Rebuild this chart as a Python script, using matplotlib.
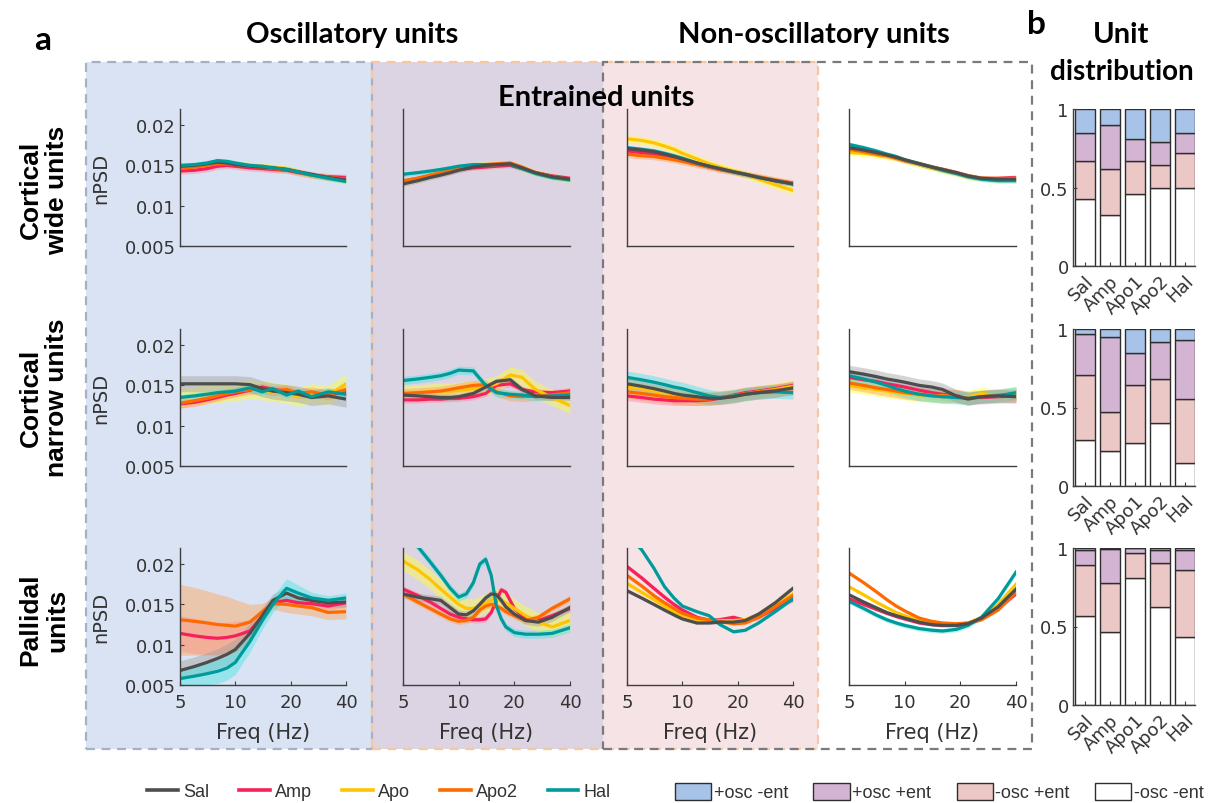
import numpy as np
import matplotlib
matplotlib.use("Agg")
import matplotlib.pyplot as plt
from matplotlib.lines import Line2D
from matplotlib.patches import Patch, Rectangle
from matplotlib.ticker import NullLocator

# ------ Data ------
GROUPS = ["Sal", "Amp", "Apo", "Apo2", "Hal"]
BAR_GROUPS = ["Sal", "Amp", "Apo1", "Apo2", "Hal"]
FREQ = [5, 6, 7, 8, 9, 10, 12, 14, 16, 19, 22, 26, 32, 40]
FREQ_PAL_ENT = [5, 6, 7, 8, 9, 10, 11, 12, 13, 14, 15, 16, 17, 18, 20, 23, 27, 32, 40]

# cortical wide units
wide_osc = {
    "Sal": [0.0149, 0.0150, 0.0152, 0.0154, 0.0153, 0.0151, 0.0149, 0.0148, 0.0147, 0.0145, 0.0142, 0.0139, 0.0135, 0.0132],
    "Amp": [0.0143, 0.0144, 0.0146, 0.0149, 0.0150, 0.0149, 0.0147, 0.0146, 0.0145, 0.0144, 0.0141, 0.0138, 0.0136, 0.0135],
    "Apo": [0.0148, 0.0150, 0.0152, 0.0154, 0.0153, 0.0152, 0.0150, 0.0149, 0.0148, 0.0146, 0.0142, 0.0138, 0.0135, 0.0131],
    "Apo2": [0.0146, 0.0148, 0.0150, 0.0152, 0.0152, 0.0151, 0.0149, 0.0148, 0.0146, 0.0145, 0.0142, 0.0138, 0.0135, 0.0133],
    "Hal": [0.0150, 0.0151, 0.0153, 0.0156, 0.0155, 0.0153, 0.0150, 0.0149, 0.0147, 0.0145, 0.0142, 0.0138, 0.0134, 0.0130],
}
wide_osc_ent = {
    "Sal": [0.0127, 0.0131, 0.0135, 0.0138, 0.0141, 0.0144, 0.0148, 0.0150, 0.0151, 0.0152, 0.0147, 0.0141, 0.0136, 0.0133],
    "Amp": [0.0130, 0.0134, 0.0137, 0.0140, 0.0142, 0.0145, 0.0147, 0.0148, 0.0149, 0.0150, 0.0146, 0.0141, 0.0137, 0.0134],
    "Apo": [0.0129, 0.0133, 0.0137, 0.0141, 0.0144, 0.0147, 0.0150, 0.0151, 0.0151, 0.0152, 0.0147, 0.0141, 0.0136, 0.0132],
    "Apo2": [0.0131, 0.0134, 0.0138, 0.0141, 0.0144, 0.0147, 0.0150, 0.0151, 0.0152, 0.0153, 0.0148, 0.0141, 0.0136, 0.0133],
    "Hal": [0.0139, 0.0141, 0.0143, 0.0145, 0.0147, 0.0149, 0.0151, 0.0151, 0.0151, 0.0151, 0.0146, 0.0140, 0.0135, 0.0132],
}
wide_ent = {
    "Sal": [0.0171, 0.0169, 0.0167, 0.0164, 0.0161, 0.0158, 0.0153, 0.0149, 0.0146, 0.0142, 0.0139, 0.0135, 0.0131, 0.0127],
    "Amp": [0.0168, 0.0166, 0.0164, 0.0162, 0.0160, 0.0157, 0.0152, 0.0148, 0.0145, 0.0142, 0.0139, 0.0135, 0.0131, 0.0128],
    "Apo": [0.0183, 0.0181, 0.0178, 0.0174, 0.0170, 0.0165, 0.0158, 0.0152, 0.0148, 0.0143, 0.0139, 0.0133, 0.0126, 0.0119],
    "Apo2": [0.0164, 0.0162, 0.0161, 0.0159, 0.0157, 0.0155, 0.0151, 0.0148, 0.0145, 0.0142, 0.0139, 0.0136, 0.0132, 0.0128],
    "Hal": [0.0172, 0.0170, 0.0168, 0.0165, 0.0162, 0.0159, 0.0153, 0.0149, 0.0146, 0.0142, 0.0139, 0.0135, 0.0131, 0.0127],
}
wide_none = {
    "Sal": [0.0172, 0.0169, 0.0166, 0.0163, 0.0160, 0.0157, 0.0152, 0.0148, 0.0145, 0.0141, 0.0137, 0.0134, 0.0133, 0.0133],
    "Amp": [0.0171, 0.0168, 0.0165, 0.0162, 0.0159, 0.0156, 0.0152, 0.0148, 0.0145, 0.0141, 0.0137, 0.0134, 0.0134, 0.0135],
    "Apo": [0.0166, 0.0165, 0.0163, 0.0161, 0.0159, 0.0156, 0.0151, 0.0147, 0.0144, 0.0140, 0.0136, 0.0134, 0.0133, 0.0134],
    "Apo2": [0.0170, 0.0167, 0.0164, 0.0162, 0.0159, 0.0156, 0.0152, 0.0148, 0.0145, 0.0141, 0.0137, 0.0134, 0.0133, 0.0133],
    "Hal": [0.0176, 0.0172, 0.0168, 0.0164, 0.0161, 0.0157, 0.0152, 0.0148, 0.0144, 0.0140, 0.0136, 0.0133, 0.0131, 0.0131],
}

# cortical narrow units
narrow_osc = {
    "Sal": [0.0152, 0.0152, 0.0152, 0.0152, 0.0152, 0.0152, 0.0151, 0.0146, 0.0143, 0.0141, 0.0139, 0.0135, 0.0137, 0.0133],
    "Amp": [0.0127, 0.0129, 0.0132, 0.0135, 0.0138, 0.0140, 0.0144, 0.0148, 0.0145, 0.0143, 0.0141, 0.0140, 0.0139, 0.0141],
    "Apo": [0.0135, 0.0137, 0.0139, 0.0140, 0.0142, 0.0143, 0.0145, 0.0144, 0.0142, 0.0140, 0.0136, 0.0140, 0.0138, 0.0152],
    "Apo2": [0.0128, 0.0131, 0.0134, 0.0137, 0.0140, 0.0142, 0.0145, 0.0146, 0.0143, 0.0145, 0.0140, 0.0142, 0.0138, 0.0145],
    "Hal": [0.0135, 0.0137, 0.0139, 0.0141, 0.0142, 0.0143, 0.0147, 0.0142, 0.0146, 0.0138, 0.0143, 0.0136, 0.0142, 0.0139],
}
narrow_osc_ent = {
    "Sal": [0.0138, 0.0137, 0.0136, 0.0135, 0.0135, 0.0136, 0.0140, 0.0148, 0.0155, 0.0157, 0.0145, 0.0137, 0.0135, 0.0135],
    "Amp": [0.0132, 0.0132, 0.0133, 0.0133, 0.0134, 0.0134, 0.0136, 0.0140, 0.0150, 0.0152, 0.0145, 0.0142, 0.0141, 0.0143],
    "Apo": [0.0140, 0.0141, 0.0142, 0.0143, 0.0143, 0.0144, 0.0146, 0.0148, 0.0152, 0.0163, 0.0160, 0.0145, 0.0135, 0.0125],
    "Apo2": [0.0140, 0.0141, 0.0142, 0.0143, 0.0145, 0.0147, 0.0150, 0.0151, 0.0142, 0.0137, 0.0136, 0.0137, 0.0138, 0.0141],
    "Hal": [0.0156, 0.0158, 0.0160, 0.0162, 0.0165, 0.0169, 0.0168, 0.0150, 0.0141, 0.0139, 0.0138, 0.0136, 0.0137, 0.0138],
}
narrow_ent = {
    "Sal": [0.0152, 0.0149, 0.0146, 0.0143, 0.0140, 0.0138, 0.0136, 0.0134, 0.0134, 0.0136, 0.0139, 0.0141, 0.0143, 0.0147],
    "Amp": [0.0137, 0.0135, 0.0133, 0.0132, 0.0131, 0.0131, 0.0131, 0.0132, 0.0134, 0.0138, 0.0141, 0.0143, 0.0146, 0.0150],
    "Apo": [0.0148, 0.0146, 0.0143, 0.0141, 0.0139, 0.0137, 0.0135, 0.0134, 0.0135, 0.0137, 0.0139, 0.0142, 0.0145, 0.0149],
    "Apo2": [0.0142, 0.0140, 0.0138, 0.0136, 0.0135, 0.0134, 0.0133, 0.0133, 0.0135, 0.0137, 0.0140, 0.0142, 0.0144, 0.0146],
    "Hal": [0.0160, 0.0157, 0.0154, 0.0151, 0.0148, 0.0146, 0.0141, 0.0137, 0.0135, 0.0137, 0.0139, 0.0141, 0.0142, 0.0141],
}
narrow_none = {
    "Sal": [0.0167, 0.0164, 0.0161, 0.0158, 0.0156, 0.0154, 0.0150, 0.0148, 0.0145, 0.0137, 0.0133, 0.0136, 0.0137, 0.0136],
    "Amp": [0.0160, 0.0157, 0.0155, 0.0152, 0.0150, 0.0148, 0.0144, 0.0141, 0.0139, 0.0137, 0.0135, 0.0135, 0.0136, 0.0137],
    "Apo": [0.0150, 0.0147, 0.0145, 0.0143, 0.0141, 0.0140, 0.0138, 0.0137, 0.0137, 0.0136, 0.0136, 0.0140, 0.0137, 0.0140],
    "Apo2": [0.0153, 0.0150, 0.0147, 0.0145, 0.0143, 0.0141, 0.0139, 0.0138, 0.0136, 0.0137, 0.0134, 0.0136, 0.0138, 0.0139],
    "Hal": [0.0162, 0.0158, 0.0154, 0.0150, 0.0146, 0.0143, 0.0139, 0.0137, 0.0136, 0.0135, 0.0134, 0.0136, 0.0137, 0.0141],
}

# pallidal units (no oscillatory non-entrained Apo units)
pal_osc = {
    "Sal": [0.0068, 0.0073, 0.0078, 0.0083, 0.0088, 0.0094, 0.0114, 0.0136, 0.0155, 0.0164, 0.0158, 0.0155, 0.0152, 0.0153],
    "Amp": [0.0114, 0.0111, 0.0109, 0.0108, 0.0109, 0.0111, 0.0117, 0.0135, 0.0152, 0.0155, 0.0152, 0.0151, 0.0148, 0.0152],
    "Apo": None,
    "Apo2": [0.0131, 0.0129, 0.0127, 0.0125, 0.0124, 0.0123, 0.0128, 0.0141, 0.0151, 0.0150, 0.0148, 0.0146, 0.0140, 0.0141],
    "Hal": [0.0058, 0.0061, 0.0064, 0.0067, 0.0071, 0.0078, 0.0104, 0.0130, 0.0150, 0.0170, 0.0164, 0.0158, 0.0155, 0.0158],
}
pal_osc_sem = {
    "Sal": [0.0012, 0.0012, 0.0012, 0.0012, 0.0013, 0.0013, 0.0012, 0.0010, 0.0008, 0.0008, 0.0007, 0.0006, 0.0006, 0.0006],
    "Amp": [0.0022, 0.0022, 0.0021, 0.0020, 0.0019, 0.0018, 0.0014, 0.0008, 0.0005, 0.0005, 0.0005, 0.0005, 0.0005, 0.0005],
    "Apo": None,
    "Apo2": [0.0044, 0.0042, 0.0040, 0.0038, 0.0036, 0.0033, 0.0022, 0.0010, 0.0007, 0.0010, 0.0010, 0.0010, 0.0009, 0.0009],
    "Hal": [0.0012, 0.0013, 0.0014, 0.0015, 0.0015, 0.0015, 0.0013, 0.0011, 0.0010, 0.0012, 0.0010, 0.0007, 0.0006, 0.0006],
}
pal_osc_ent = {
    "Sal": [0.0163, 0.0159, 0.0157, 0.0155, 0.0146, 0.0138, 0.0137, 0.0142, 0.0150, 0.0158, 0.0163, 0.0162, 0.0155, 0.0147, 0.0138, 0.0130, 0.0128, 0.0134, 0.0146],
    "Amp": [0.0169, 0.0161, 0.0153, 0.0145, 0.0138, 0.0134, 0.0132, 0.0131, 0.0131, 0.0132, 0.0140, 0.0155, 0.0168, 0.0165, 0.0145, 0.0132, 0.0130, 0.0136, 0.0145],
    "Apo": [0.0204, 0.0193, 0.0181, 0.0169, 0.0159, 0.0150, 0.0145, 0.0145, 0.0148, 0.0152, 0.0155, 0.0157, 0.0155, 0.0152, 0.0145, 0.0136, 0.0128, 0.0122, 0.0130],
    "Apo2": [0.0163, 0.0153, 0.0145, 0.0138, 0.0132, 0.0129, 0.0130, 0.0134, 0.0143, 0.0148, 0.0150, 0.0148, 0.0145, 0.0141, 0.0136, 0.0130, 0.0134, 0.0145, 0.0157],
    "Hal": [0.0240, 0.0222, 0.0203, 0.0186, 0.0170, 0.0159, 0.0163, 0.0177, 0.0200, 0.0206, 0.0186, 0.0148, 0.0132, 0.0122, 0.0115, 0.0113, 0.0113, 0.0114, 0.0121],
}
pal_ent = {
    "Sal": [0.0167, 0.0158, 0.0150, 0.0143, 0.0137, 0.0132, 0.0127, 0.0127, 0.0128, 0.0128, 0.0130, 0.0138, 0.0152, 0.0170],
    "Amp": [0.0197, 0.0183, 0.0170, 0.0159, 0.0150, 0.0143, 0.0134, 0.0130, 0.0131, 0.0134, 0.0130, 0.0134, 0.0145, 0.0156],
    "Apo": [0.0176, 0.0165, 0.0156, 0.0148, 0.0141, 0.0136, 0.0131, 0.0130, 0.0130, 0.0130, 0.0131, 0.0138, 0.0150, 0.0163],
    "Apo2": [0.0186, 0.0173, 0.0161, 0.0152, 0.0145, 0.0139, 0.0133, 0.0131, 0.0129, 0.0126, 0.0127, 0.0134, 0.0147, 0.0161],
    "Hal": [0.0235, 0.0218, 0.0195, 0.0172, 0.0158, 0.0148, 0.0141, 0.0136, 0.0125, 0.0116, 0.0118, 0.0127, 0.0141, 0.0157],
}
pal_none = {
    "Sal": [0.0162, 0.0153, 0.0146, 0.0140, 0.0136, 0.0133, 0.0128, 0.0125, 0.0124, 0.0124, 0.0126, 0.0133, 0.0147, 0.0169],
    "Amp": [0.0157, 0.0150, 0.0144, 0.0139, 0.0135, 0.0132, 0.0127, 0.0125, 0.0124, 0.0124, 0.0126, 0.0132, 0.0145, 0.0163],
    "Apo": [0.0172, 0.0162, 0.0153, 0.0146, 0.0140, 0.0136, 0.0130, 0.0127, 0.0126, 0.0125, 0.0127, 0.0134, 0.0150, 0.0175],
    "Apo2": [0.0189, 0.0177, 0.0166, 0.0156, 0.0148, 0.0142, 0.0133, 0.0129, 0.0127, 0.0126, 0.0127, 0.0131, 0.0143, 0.0165],
    "Hal": [0.0154, 0.0145, 0.0137, 0.0131, 0.0127, 0.0124, 0.0120, 0.0118, 0.0117, 0.0119, 0.0124, 0.0134, 0.0157, 0.0190],
}

# shaded error half-widths (Sal, Amp, Apo, Apo2, Hal)
sem_rows = [
    [[0.0003, 0.0004, 0.0004, 0.0004, 0.0003], [0.0003, 0.0003, 0.0004, 0.0003, 0.0003],
     [0.0003, 0.0003, 0.0005, 0.0004, 0.0003], [0.0003, 0.0003, 0.0004, 0.0003, 0.0003]],
    [[0.0010, 0.0005, 0.0012, 0.0006, 0.0004], [0.0004, 0.0004, 0.0010, 0.0006, 0.0005],
     [0.0008, 0.0006, 0.0008, 0.0008, 0.0008], [0.0008, 0.0008, 0.0008, 0.0008, 0.0008]],
    [None, [0.0005, 0.0004, 0.0012, 0.0004, 0.0005],
     [0.0002, 0.0003, 0.0003, 0.0002, 0.0002], [0.0002, 0.0002, 0.0002, 0.0002, 0.0003]],
]

# unit distribution fractions per group (bottom to top)
dist_wide = {
    "-osc -ent": [0.426, 0.323, 0.457, 0.496, 0.496],
    "-osc +ent": [0.240, 0.294, 0.209, 0.149, 0.225],
    "+osc +ent": [0.179, 0.281, 0.140, 0.144, 0.124],
    "+osc -ent": [0.155, 0.102, 0.194, 0.211, 0.155],
}
dist_narrow = {
    "-osc -ent": [0.293, 0.221, 0.275, 0.403, 0.149],
    "-osc +ent": [0.414, 0.251, 0.368, 0.280, 0.403],
    "+osc +ent": [0.258, 0.480, 0.205, 0.234, 0.376],
    "+osc -ent": [0.035, 0.048, 0.152, 0.083, 0.072],
}
dist_pal = {
    "-osc -ent": [0.570, 0.462, 0.809, 0.625, 0.434],
    "-osc +ent": [0.324, 0.318, 0.157, 0.280, 0.424],
    "+osc +ent": [0.095, 0.214, 0.034, 0.085, 0.127],
    "+osc -ent": [0.011, 0.006, 0.000, 0.010, 0.015],
}

# ------ Styles ------
W, H = 1209, 804
LINE_COLORS = {"Sal": "#4d4d4d", "Amp": "#f5205c", "Apo": "#ffc400", "Apo2": "#ff6a00", "Hal": "#009a9a"}
BAND_COLORS = {"Sal": "#a0a0a0", "Amp": "#ff85a5", "Apo": "#ffff3c", "Apo2": "#ffa456", "Hal": "#46e6e6"}
DIST_COLORS = {"+osc -ent": "#a7c3e8", "+osc +ent": "#d4b4d3", "-osc +ent": "#ebc7c5", "-osc -ent": "#ffffff"}
AX_COLOR = "#3f3f3f"
TXT_COLOR = "#333333"
HEAD_FONT = "Lato"
LABEL_FONT = "Liberation Sans"

COL_X = [(180, 346), (403, 570), (627, 793), (849, 1016)]
ROW_Y = [(110, 247), (330, 467), (549, 686)]
BAR_X = (1073, 1195)
BAR_Y = [(110, 267), (330, 487), (549, 706)]

plt.rcParams["font.family"] = "DejaVu Sans"


def px_box(x0, x1, y0, y1):
    return [x0 / W, 1 - y1 / H, (x1 - x0) / W, (y1 - y0) / H]


def add_rect(fig, x0, x1, y0, y1, **kw):
    r = Rectangle((x0 / W, 1 - y1 / H), (x1 - x0) / W, (y1 - y0) / H,
                  transform=fig.transFigure, **kw)
    fig.add_artist(r)


def style_axes(ax):
    for s in ["top", "right"]:
        ax.spines[s].set_visible(False)
    for s in ["left", "bottom"]:
        ax.spines[s].set_color(AX_COLOR)
        ax.spines[s].set_linewidth(1.0)
    ax.set_facecolor("none")
    ax.tick_params(direction="in", length=3, color=AX_COLOR, labelcolor=TXT_COLOR, labelsize=13)


# ------ PSD panels ------
def draw_psd(ax, freq, means, sems, order):
    for g in order:
        if means[g] is None:
            continue
        m = np.array(means[g])
        s = np.array(sems[g]) if isinstance(sems, dict) else sems[GROUPS.index(g)]
        ax.fill_between(freq, m - s, m + s, color=BAND_COLORS[g], alpha=0.45, lw=0)
    for g in order:
        if means[g] is None:
            continue
        ax.plot(freq, means[g], color=LINE_COLORS[g], lw=2.3)


def draw_dist(ax, dist):
    x = np.arange(1, 6)
    bottom = np.zeros(5)
    for key in ["-osc -ent", "-osc +ent", "+osc +ent", "+osc -ent"]:
        vals = np.array(dist[key])
        ax.bar(x, vals, bottom=bottom, width=0.8, color=DIST_COLORS[key],
               edgecolor="#2e2e2e", linewidth=1.0)
        bottom += vals
    style_axes(ax)
    ax.set_xlim(0.52, 5.42)
    ax.set_ylim(0, 1)
    ax.set_yticks([0, 0.5, 1])
    ax.set_yticklabels(["0", "0.5", "1"])
    ax.set_xticks(x)
    ax.set_xticklabels(BAR_GROUPS, rotation=45, ha="right", rotation_mode="anchor")
    ax.tick_params(axis="x", pad=4)
    ax.tick_params(axis="y", pad=3)


def main():
    fig = plt.figure(figsize=(W / 100, H / 100), dpi=100)

    # background regions
    add_rect(fig, 86, 372, 63, 750, facecolor="#dae3f3", edgecolor="none", zorder=-3)
    add_rect(fig, 372, 603, 63, 750, facecolor="#dcd4e2", edgecolor="none", zorder=-3)
    add_rect(fig, 603, 818, 63, 750, facecolor="#f6e3e6", edgecolor="none", zorder=-3)
    add_rect(fig, 86, 372, 63, 750, facecolor="none", edgecolor="#a7b1c4", lw=1.6,
             linestyle=(0, (4, 3)), zorder=-2)
    add_rect(fig, 372, 818, 63, 750, facecolor="none", edgecolor="#f7c7a2", lw=1.6,
             linestyle=(0, (4, 3)), zorder=-2)
    add_rect(fig, 603, 1032, 63, 750, facecolor="none", edgecolor="#7a7a7a", lw=1.6,
             linestyle=(0, (4, 3)), zorder=-1)

    panels = [
        [(FREQ, wide_osc), (FREQ, wide_osc_ent), (FREQ, wide_ent), (FREQ, wide_none)],
        [(FREQ, narrow_osc), (FREQ, narrow_osc_ent), (FREQ, narrow_ent), (FREQ, narrow_none)],
        [(FREQ, pal_osc), (FREQ_PAL_ENT, pal_osc_ent), (FREQ, pal_ent), (FREQ, pal_none)],
    ]
    dists = [dist_wide, dist_narrow, dist_pal]

    for r in range(3):
        for c in range(4):
            freq, means = panels[r][c]
            sems = sem_rows[r][c] if sem_rows[r][c] is not None else pal_osc_sem
            ax = fig.add_axes(px_box(*COL_X[c], *ROW_Y[r]))
            order = ["Amp", "Apo", "Apo2", "Sal", "Hal"] if c == 0 else ["Amp", "Apo", "Apo2", "Hal", "Sal"]
            draw_psd(ax, freq, means, sems, order)
            style_axes(ax)
            ax.set_xscale("log")
            ax.set_xlim(5, 40)
            ax.set_ylim(0.005, 0.022)
            ax.xaxis.set_minor_locator(NullLocator())
            if r == 2:
                ax.set_xticks([5, 10, 20, 40])
                ax.set_xticklabels(["5", "10", "20", "40"])
                ax.tick_params(axis="x", pad=6)
                ax.text(0.5, -0.345, "Freq (Hz)", transform=ax.transAxes, ha="center",
                        va="center", fontsize=15, color=TXT_COLOR)
            else:
                ax.set_xticks([])
            if c == 0:
                ax.set_yticks([0.005, 0.01, 0.015, 0.02])
                ax.set_yticklabels(["0.005", "0.01", "0.015", "0.02"])
                ax.tick_params(axis="y", pad=3)
                ax.set_ylabel("nPSD", fontsize=14, color=TXT_COLOR)
                ax.yaxis.set_label_coords(-0.42, 0.5)
            else:
                ax.set_yticks([])

        bax = fig.add_axes(px_box(*BAR_X, *BAR_Y[r]))
        draw_dist(bax, dists[r])

    # ------ Titles and labels ------
    head = dict(fontsize=21, fontweight="bold", family=HEAD_FONT, ha="center", va="center", color="black")
    fig.text(43 / W, 1 - 40 / H, "a", **dict(head, fontsize=24))
    fig.text(1036 / W, 1 - 25 / H, "b", **dict(head, fontsize=24))
    fig.text(352 / W, 1 - 35 / H, "Oscillatory units", **head)
    fig.text(814 / W, 1 - 35 / H, "Non-oscillatory units", **head)
    fig.text(596 / W, 1 - 98 / H, "Entrained units", **head)
    fig.text(1121 / W, 1 - 35 / H, "Unit", **head)
    fig.text(1122 / W, 1 - 72 / H, "distribution", **dict(head, fontsize=20))

    rowlab = dict(fontsize=19, fontweight="bold", family=LABEL_FONT, rotation=90, ha="center",
                  va="center", linespacing=1.15, multialignment="center")
    fig.text(44 / W, 1 - 190 / H, "Cortical\nwide units", **rowlab)
    fig.text(44 / W, 1 - 398 / H, "Cortical\nnarrow units", **rowlab)
    fig.text(44 / W, 1 - 620 / H, "Pallidal\nunits", **rowlab)

    # ------ Legends ------
    leg_font = {"family": LABEL_FONT, "size": 13}
    line_handles = [Line2D([0], [0], color=LINE_COLORS[g], lw=2.6) for g in GROUPS]
    leg1 = fig.legend(line_handles, GROUPS, ncol=5, loc="center left",
                      bbox_to_anchor=(147 / W, 1 - 793 / H), frameon=False, prop=leg_font,
                      handlelength=1.7, handletextpad=0.3, columnspacing=1.65,
                      borderpad=0, borderaxespad=0)
    for t in leg1.get_texts():
        t.set_color(TXT_COLOR)

    dist_keys = ["+osc -ent", "+osc +ent", "-osc +ent", "-osc -ent"]
    patch_handles = [Patch(facecolor=DIST_COLORS[k], edgecolor="#2e2e2e", lw=1.0) for k in dist_keys]
    leg2 = fig.legend(patch_handles, dist_keys, ncol=4, loc="center left",
                      bbox_to_anchor=(675 / W, 1 - 793 / H), frameon=False, prop=leg_font,
                      handlelength=2.0, handleheight=1.1, handletextpad=0.15,
                      columnspacing=1.4, borderpad=0, borderaxespad=0)
    for t in leg2.get_texts():
        t.set_color(TXT_COLOR)

    fig.savefig("out.png", dpi=100, facecolor="white")


main()
